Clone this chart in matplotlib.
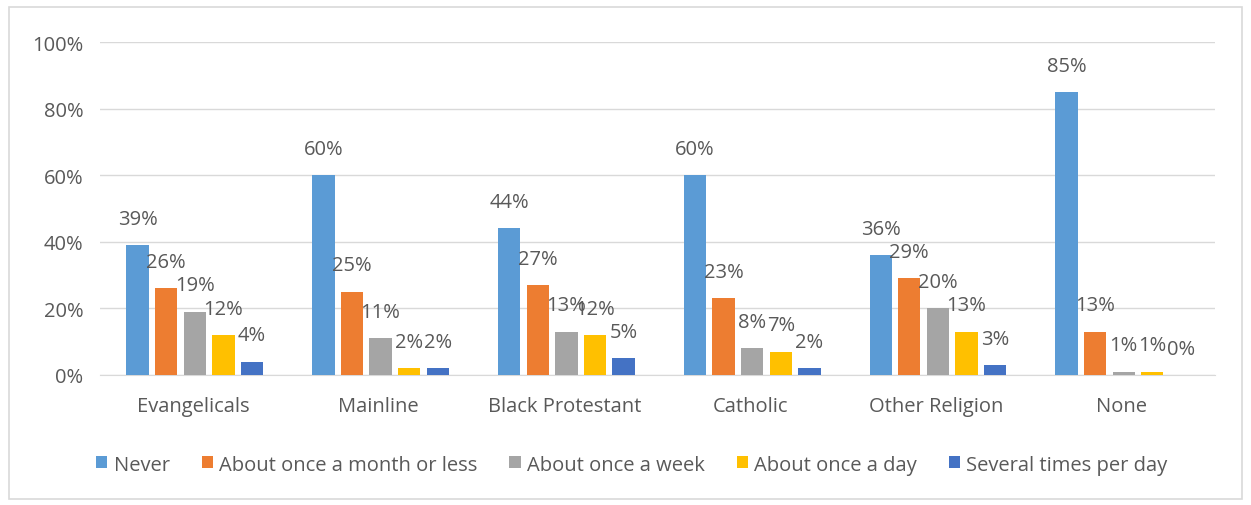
import matplotlib
matplotlib.use("Agg")
import matplotlib.pyplot as plt
import numpy as np
from matplotlib.patches import Rectangle

categories = ["Evangelicals", "Mainline", "Black Protestant", "Catholic", "Other Religion", "None"]
series_names = ["Never", "About once a month or less", "About once a week",
                "About once a day", "Several times per day"]
never = [39, 60, 44, 60, 36, 85]
monthly = [26, 25, 27, 23, 29, 13]
weekly = [19, 11, 13, 8, 20, 1]
daily = [12, 2, 12, 7, 13, 1]
several = [4, 2, 5, 2, 3, 0]
colors = ["#5B9BD5", "#ED7D31", "#A5A5A5", "#FFC000", "#4472C4"]

series = [never, monthly, weekly, daily, several]

plt.rcParams['font.family'] = ['Open Sans', 'DejaVu Sans']
fig = plt.figure(figsize=(12.51, 5.06), dpi=100)
ax = fig.add_axes([0.08, 0.257, 0.891, 0.658])

x = np.arange(len(categories))
step = 0.154
width = 0.12
text_color = "#595959"
fs = 14.5
for i, (vals, col, name) in enumerate(zip(series, colors, series_names)):
    pos = x + (i - 2) * step + 0.01
    ax.bar(pos, vals, width=width, color=col, label=name, zorder=3)
    for p, v in zip(pos, vals):
        ax.annotate(f"{v}%", (p, v), xytext=(0, 19), textcoords="offset points",
                    ha="center", va="center", fontsize=fs, color=text_color, zorder=4)

ax.set_xlim(-0.5, len(categories) - 0.5)
ax.set_ylim(0, 100)
ax.set_yticks(range(0, 101, 20))
ax.set_yticklabels([f"{t}%" for t in range(0, 101, 20)], fontsize=fs, color=text_color)
ax.set_xticks(x)
ax.set_xticklabels(categories, fontsize=fs, color=text_color)
ax.tick_params(axis="both", length=0)
ax.tick_params(axis="y", pad=12)
ax.tick_params(axis="x", pad=15)
ax.grid(axis="y", color="#D9D9D9", linewidth=1, zorder=0)
for s in ["top", "right", "left"]:
    ax.spines[s].set_visible(False)
ax.spines["bottom"].set_color("#D9D9D9")

leg = fig.legend(loc="center", bbox_to_anchor=(0.505, 0.08), ncol=5, frameon=False,
                 fontsize=fs, handlelength=0.55, handleheight=0.55, handletextpad=0.3,
                 columnspacing=1.6, labelcolor=text_color)

fig.patches.append(Rectangle((0.007, 0.012), 0.986, 0.972, transform=fig.transFigure,
                             fill=False, edgecolor="#D9D9D9", linewidth=1.2))

fig.savefig("out.png", dpi=100, facecolor="white")
